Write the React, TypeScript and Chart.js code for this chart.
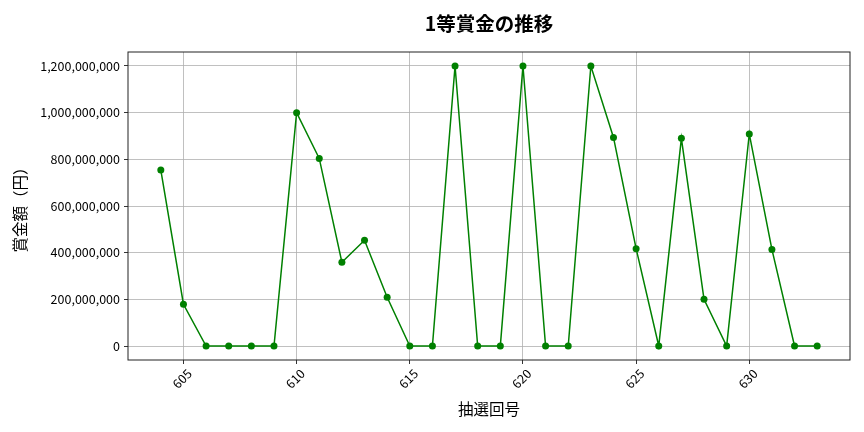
import { useEffect, useRef } from "react";
import { Chart, registerables } from "chart.js";

Chart.register(...registerables);

// 抽選回号 and 1等賞金 (円)
const drawNumbers = [
  604, 605, 606, 607, 608, 609, 610, 611, 612, 613, 614, 615, 616, 617, 618,
  619, 620, 621, 622, 623, 624, 625, 626, 627, 628, 629, 630, 631, 632, 633,
];
const prizes = [
  754000000, 179000000, 0, 0, 0, 0, 1000000000, 804000000, 359000000,
  453000000, 209000000, 0, 0, 1200000000, 0, 0, 1200000000, 0, 0, 1200000000,
  894000000, 417000000, 0, 890000000, 200000000, 0, 909000000, 414000000, 0, 0,
];
const xTicks = [605, 610, 615, 620, 625, 630];
const yTicks = [0, 200000000, 400000000, 600000000, 800000000, 1000000000, 1200000000];

const chartTitle = "1等賞金の推移";
const xTitle = "抽選回号";
const yTitle = "賞金額（円）";

const FONT = "'Noto Sans CJK JP', 'Noto Sans', sans-serif";

export default function App() {
  const canvasRef = useRef<HTMLCanvasElement>(null);

  useEffect(() => {
    document.body.style.margin = "0";
    if (!canvasRef.current) return;

    const chart = new Chart(canvasRef.current, {
      type: "line",
      data: {
        datasets: [
          {
            data: drawNumbers.map((x, i) => ({ x, y: prizes[i] })),
            borderColor: "#008000",
            backgroundColor: "#008000",
            borderWidth: 1.5,
            pointRadius: 3.5,
            pointHoverRadius: 3.5,
            pointBorderWidth: 0,
            tension: 0,
          },
        ],
      },
      options: {
        animation: false,
        responsive: false,
        maintainAspectRatio: false,
        layout: { padding: { top: 52, right: 14, left: 0, bottom: 0 } },
        plugins: {
          legend: { display: false },
          title: { display: false },
          tooltip: { enabled: false },
        },
        scales: {
          x: {
            type: "linear",
            min: 602.55,
            max: 634.45,
            afterBuildTicks: (scale) => {
              scale.ticks = xTicks.map((v) => ({ value: v }));
            },
            afterFit: (scale) => {
              scale.height = 72;
            },
            grid: {
              color: "#b0b0b0",
              lineWidth: 0.8,
              tickLength: 4,
              tickColor: "#000",
            },
            border: { display: false },
            ticks: {
              minRotation: 45,
              maxRotation: 45,
              labelOffset: 6,
              padding: 2,
              color: "#000",
              font: { family: FONT, size: 12.5 },
              callback: (v) => String(v),
            },
          },
          y: {
            type: "linear",
            min: -60000000,
            max: 1260000000,
            afterBuildTicks: (scale) => {
              scale.ticks = yTicks.map((v) => ({ value: v }));
            },
            afterFit: (scale) => {
              scale.width = 128;
            },
            grid: {
              color: "#b0b0b0",
              lineWidth: 0.8,
              tickLength: 4,
              tickColor: "#000",
            },
            border: { display: false },
            ticks: {
              padding: 4,
              color: "#000",
              font: { family: FONT, size: 12.5 },
              callback: (v) => Number(v).toLocaleString("en-US"),
            },
          },
        },
      },
      plugins: [
        {
          id: "frameAndTitles",
          afterDraw: (c) => {
            const { ctx, chartArea } = c;
            const { left, right, top, bottom } = chartArea;
            ctx.save();
            ctx.strokeStyle = "#222";
            ctx.lineWidth = 1;
            ctx.strokeRect(left, top, right - left, bottom - top);

            ctx.fillStyle = "#000";
            ctx.textAlign = "center";
            ctx.textBaseline = "middle";
            ctx.font = `bold 19.5px ${FONT}`;
            ctx.fillText(chartTitle, (left + right) / 2, 24);

            ctx.font = `15.5px ${FONT}`;
            ctx.fillText(xTitle, (left + right) / 2, 409);

            ctx.translate(20, (top + bottom) / 2);
            ctx.rotate(-Math.PI / 2);
            ctx.fillText(yTitle, 0, 0);
            ctx.restore();
          },
        },
      ],
    });

    return () => chart.destroy();
  }, []);

  return (
    <div style={{ width: 864, height: 432, background: "#fff" }}>
      <canvas ref={canvasRef} width={864} height={432} />
    </div>
  );
}
